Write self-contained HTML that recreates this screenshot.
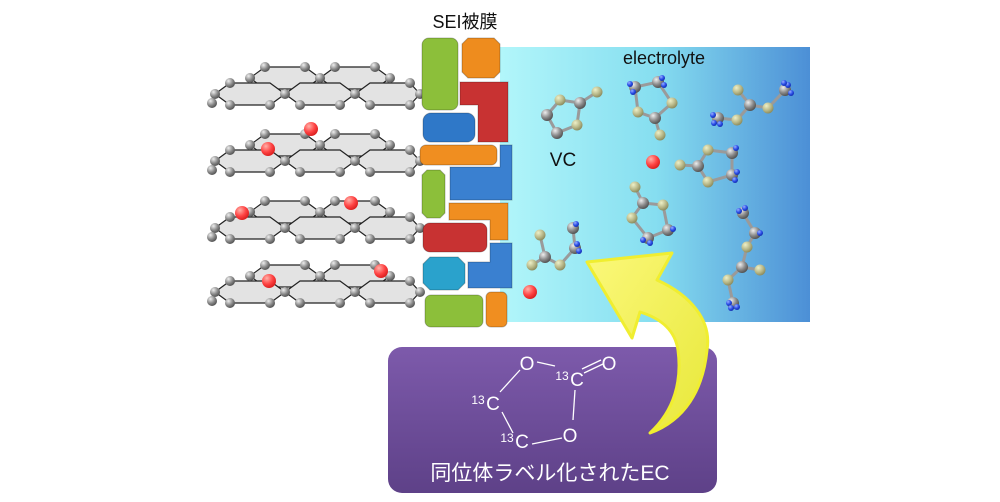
<!DOCTYPE html>
<html><head><meta charset="utf-8"><style>
html,body{margin:0;padding:0;background:#fff;width:1000px;height:502px;overflow:hidden}
svg{display:block}
text{font-family:"Liberation Sans","Noto Sans CJK JP",sans-serif}
</style></head><body>
<svg width="1000" height="502" viewBox="0 0 1000 502" xmlns="http://www.w3.org/2000/svg">
<defs>
<linearGradient id="el" x1="0" x2="1" y1="0" y2="0"><stop offset="0" stop-color="#b2f6fa"/><stop offset="0.5" stop-color="#86def0"/><stop offset="1" stop-color="#4c8fd6"/></linearGradient>
<linearGradient id="pu" x1="0" x2="0" y1="0" y2="1"><stop offset="0" stop-color="#7d5aab"/><stop offset="1" stop-color="#5e4188"/></linearGradient>
<radialGradient id="gc" cx="0.35" cy="0.3" r="0.7"><stop offset="0" stop-color="#eee"/><stop offset="0.6" stop-color="#8a8a8a"/><stop offset="1" stop-color="#555"/></radialGradient>
<radialGradient id="rc" cx="0.35" cy="0.3" r="0.7"><stop offset="0" stop-color="#ffb0a8"/><stop offset="0.6" stop-color="#f44"/><stop offset="1" stop-color="#d22"/></radialGradient>
<radialGradient id="tc" cx="0.35" cy="0.3" r="0.7"><stop offset="0" stop-color="#eef0c8"/><stop offset="0.6" stop-color="#b9b98a"/><stop offset="1" stop-color="#8e8e60"/></radialGradient>
<radialGradient id="hc" cx="0.35" cy="0.3" r="0.7"><stop offset="0" stop-color="#9ab0ff"/><stop offset="0.6" stop-color="#2a4ee8"/><stop offset="1" stop-color="#1530b0"/></radialGradient>
<linearGradient id="yl" x1="0" x2="1" y1="0" y2="1"><stop offset="0" stop-color="#fbf87a"/><stop offset="1" stop-color="#e8e83a"/></linearGradient>
<g id="L">
 <g fill="#e3e3e3" stroke="#222" stroke-width="1.2">
  <polygon points="250,78 265,67 305,67 320,78 305,89 265,89"/>
  <polygon points="320,78 335,67 375,67 390,78 375,89 335,89"/>
  <polygon points="215,94 230,83 270,83 285,94 270,105 230,105"/>
  <polygon points="285,94 300,83 340,83 355,94 340,105 300,105"/>
  <polygon points="355,94 370,83 410,83 420,94 410,105 370,105"/>
 </g>
 <g fill="url(#gc)">
  <circle cx="265" cy="67" r="5"/><circle cx="305" cy="67" r="5"/><circle cx="335" cy="67" r="5"/><circle cx="375" cy="67" r="5"/><circle cx="390" cy="78" r="5"/>
  <circle cx="250" cy="78" r="5"/><circle cx="320" cy="78" r="5"/>
  <circle cx="215" cy="94" r="5"/><circle cx="230" cy="83" r="5"/><circle cx="285" cy="94" r="5"/><circle cx="355" cy="94" r="5"/><circle cx="410" cy="83" r="5"/><circle cx="420" cy="94" r="5"/>
  <circle cx="230" cy="105" r="5"/><circle cx="270" cy="105" r="5"/><circle cx="300" cy="105" r="5"/><circle cx="340" cy="105" r="5"/><circle cx="370" cy="105" r="5"/><circle cx="410" cy="105" r="5"/><circle cx="212" cy="103" r="5"/>
 </g>
</g>
</defs>
<!-- electrolyte -->
<rect x="500" y="47" width="310" height="275" fill="url(#el)"/>
<!-- graphene -->
<use href="#L"/>
<use href="#L" transform="translate(0,67)"/>
<use href="#L" transform="translate(0,134)"/>
<use href="#L" transform="translate(0,198)"/>
<g fill="url(#rc)">
 <circle cx="268" cy="149" r="7"/><circle cx="311" cy="129" r="7"/>
 <circle cx="242" cy="213" r="7"/><circle cx="351" cy="203" r="7"/>
 <circle cx="269" cy="281" r="7"/><circle cx="381" cy="271" r="7"/>
 <circle cx="653" cy="162" r="7"/><circle cx="530" cy="292" r="7"/>
</g>
<!-- SEI -->
<g stroke="rgba(0,0,0,0.25)" stroke-width="1">
<rect x="422" y="38" width="36" height="72" rx="7" fill="#8cbf3a"/>
<polygon points="468,38 494,38 500,44 500,72 494,78 468,78 462,72 462,44" fill="#ee8c1e"/>
<polygon points="460,82 508,82 508,142 478,142 478,105 460,105" fill="#c83232"/>
<rect x="423" y="113" width="52" height="29" rx="8" fill="#2f78c8"/>
<rect x="420" y="145" width="77" height="20" rx="6" fill="#f08e20"/>
<polygon points="500,145 512,145 512,200 450,200 450,167 500,167" fill="#3a80d0"/>
<polygon points="427,170 440,170 445,175 445,213 440,218 427,218 422,213 422,175" fill="#8cbf3a"/>
<polygon points="449,203 508,203 508,240 490,240 490,220 449,220" fill="#f08e20"/>
<rect x="423" y="223" width="64" height="29" rx="7" fill="#c83232"/>
<polygon points="490,243 512,243 512,288 468,288 468,262 490,262" fill="#3a80d0"/>
<polygon points="430,257 458,257 465,264 465,283 458,290 430,290 423,283 423,264" fill="#2aa2cc"/>
<rect x="425" y="295" width="58" height="32" rx="6" fill="#8cbf3a"/>
<rect x="486" y="292" width="21" height="35" rx="5" fill="#f08e20"/>
</g>
<!-- molecules bonds -->
<g stroke="#9a9a9a" stroke-width="3" fill="none">
<polyline points="560,100 580,103 577,125 557,133 547,115 560,100"/><line x1="580" y1="103" x2="597" y2="92"/>
<polyline points="635,87 658,82 672,103 655,118 638,112 635,87"/><line x1="655" y1="118" x2="660" y2="135"/>
<polyline points="718,118 737,120 750,105 768,108 785,90"/><line x1="750" y1="105" x2="738" y2="90"/>
<polyline points="698,166 708,150 732,153 732,175 708,182 698,166"/><line x1="680" y1="165" x2="698" y2="166"/>
<polyline points="643,203 663,205 668,230 648,238 632,218 643,203"/><line x1="635" y1="187" x2="643" y2="203"/>
<polyline points="532,265 545,257 560,265 575,248 573,228"/><line x1="540" y1="235" x2="545" y2="257"/>
<polyline points="743,213 755,233 747,247 742,267 728,280 733,303"/><line x1="742" y1="267" x2="760" y2="270"/>
</g>
<g>
<g fill="url(#tc)"><circle cx="560" cy="100" r="5.5"/><circle cx="597" cy="92" r="5.5"/><circle cx="577" cy="125" r="5.5"/>
<circle cx="672" cy="103" r="5.5"/><circle cx="638" cy="112" r="5.5"/><circle cx="660" cy="135" r="5.5"/>
<circle cx="737" cy="120" r="5.5"/><circle cx="738" cy="90" r="5.5"/><circle cx="768" cy="108" r="5.5"/>
<circle cx="680" cy="165" r="5.5"/><circle cx="708" cy="150" r="5.5"/><circle cx="708" cy="182" r="5.5"/>
<circle cx="635" cy="187" r="5.5"/><circle cx="663" cy="205" r="5.5"/><circle cx="632" cy="218" r="5.5"/>
<circle cx="540" cy="235" r="5.5"/><circle cx="532" cy="265" r="5.5"/><circle cx="560" cy="265" r="5.5"/>
<circle cx="747" cy="247" r="5.5"/><circle cx="760" cy="270" r="5.5"/><circle cx="728" cy="280" r="5.5"/></g>
<g fill="url(#gc)"><circle cx="580" cy="103" r="6"/><circle cx="557" cy="133" r="6"/><circle cx="547" cy="115" r="6"/>
<circle cx="635" cy="87" r="6"/><circle cx="658" cy="82" r="6"/><circle cx="655" cy="118" r="6"/>
<circle cx="718" cy="118" r="6"/><circle cx="750" cy="105" r="6"/><circle cx="785" cy="90" r="6"/>
<circle cx="698" cy="166" r="6"/><circle cx="732" cy="153" r="6"/><circle cx="732" cy="175" r="6"/>
<circle cx="643" cy="203" r="6"/><circle cx="668" cy="230" r="6"/><circle cx="648" cy="238" r="6"/>
<circle cx="545" cy="257" r="6"/><circle cx="575" cy="248" r="6"/><circle cx="573" cy="228" r="6"/>
<circle cx="743" cy="213" r="6"/><circle cx="755" cy="233" r="6"/><circle cx="742" cy="267" r="6"/><circle cx="733" cy="303" r="6"/></g>
<g fill="url(#hc)">
<circle cx="630" cy="84" r="3"/><circle cx="633" cy="92" r="3"/><circle cx="662" cy="78" r="3"/><circle cx="664" cy="85" r="3"/>
<circle cx="713" cy="115" r="3"/><circle cx="714" cy="123" r="3"/><circle cx="720" cy="124" r="3"/><circle cx="788" cy="85" r="3"/><circle cx="791" cy="93" r="3"/><circle cx="784" cy="83" r="3"/>
<circle cx="736" cy="148" r="3"/><circle cx="735" cy="180" r="3"/><circle cx="737" cy="172" r="3"/>
<circle cx="673" cy="229" r="3"/><circle cx="650" cy="243" r="3"/><circle cx="643" cy="240" r="3"/>
<circle cx="579" cy="251" r="3"/><circle cx="577" cy="244" r="3"/><circle cx="576" cy="224" r="3"/>
<circle cx="739" cy="211" r="3"/><circle cx="745" cy="208" r="3"/><circle cx="760" cy="233" r="3"/><circle cx="729" cy="303" r="3"/><circle cx="737" cy="307" r="3"/><circle cx="731" cy="308" r="3"/>
</g>
</g>
<!-- purple box -->
<rect x="388" y="347" width="329" height="146" rx="14" fill="url(#pu)"/>
<!-- arrow -->
<path d="M587,262 L672,253 L657,280 C690,295 712,320 707,350 C703,390 685,420 650,433 C675,410 682,380 678,350 C675,330 660,318 640,312 L632,338 Z" fill="url(#yl)" stroke="#f0ee30" stroke-width="3" stroke-linejoin="round"/>
<!-- EC structure -->
<g stroke="#fff" stroke-width="1.3" fill="none">
<line x1="537" y1="362" x2="555" y2="366"/>
<line x1="582" y1="369" x2="601" y2="360"/><line x1="584" y1="373" x2="603" y2="364"/>
<line x1="575" y1="390" x2="573" y2="420"/>
<line x1="562" y1="438" x2="532" y2="444"/>
<line x1="513" y1="433" x2="502" y2="412"/>
<line x1="500" y1="392" x2="520" y2="370"/>
</g>
<g fill="#fff" font-size="19">
<text x="527" y="370" text-anchor="middle">O</text>
<text x="609" y="370" text-anchor="middle">O</text>
<text x="577" y="386" text-anchor="middle">C</text><text x="562" y="380" font-size="12" text-anchor="middle">13</text>
<text x="493" y="410" text-anchor="middle">C</text><text x="478" y="404" font-size="12" text-anchor="middle">13</text>
<text x="522" y="448" text-anchor="middle">C</text><text x="507" y="442" font-size="12" text-anchor="middle">13</text>
<text x="570" y="442" text-anchor="middle">O</text>
<text x="550" y="480" font-size="21" text-anchor="middle">同位体ラベル化されたEC</text>
</g>
<text x="465" y="28" font-size="18" text-anchor="middle" fill="#111">SEI被膜</text>
<text x="664" y="64" font-size="18" text-anchor="middle" fill="#111">electrolyte</text>
<text x="563" y="166" font-size="19" text-anchor="middle" fill="#111">VC</text>
</svg>
</body></html>
